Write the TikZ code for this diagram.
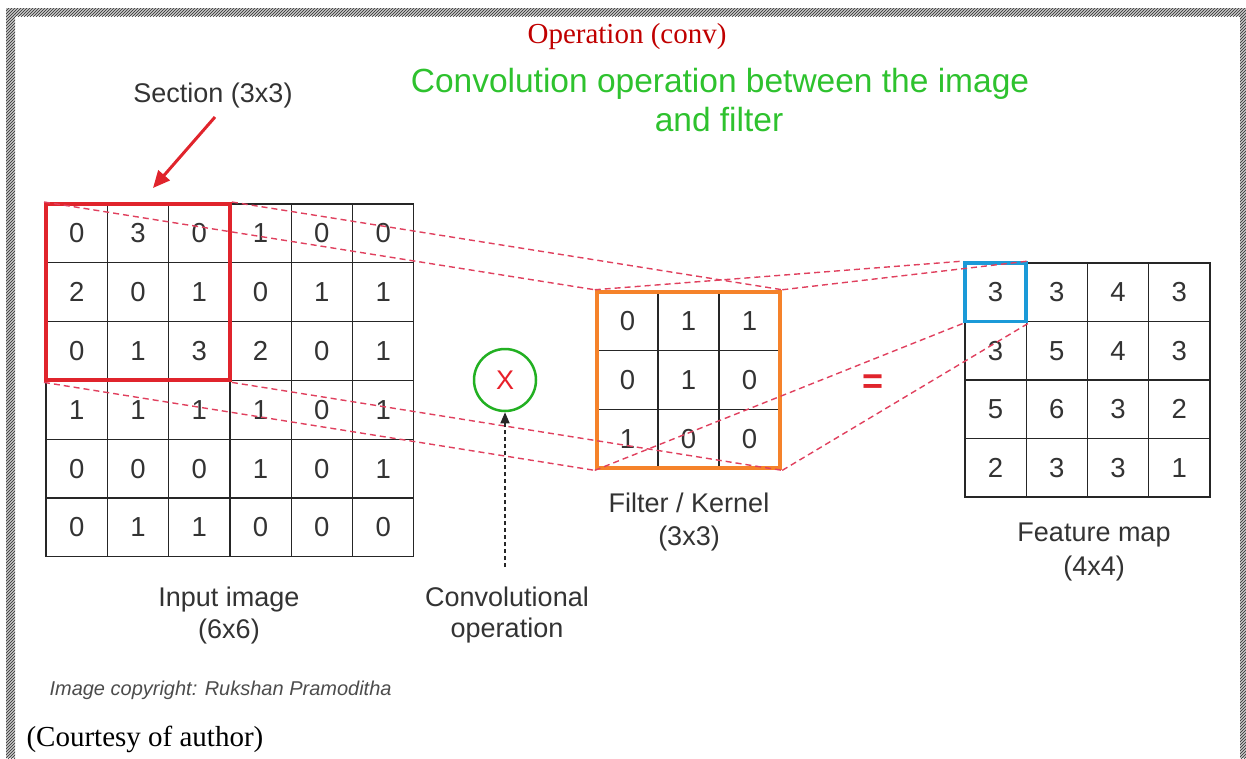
\documentclass[tikz,border=0pt]{standalone}
\usepackage{fontspec}
\setmainfont{Liberation Serif}
\newfontfamily\arialfont{Liberation Sans}
\usetikzlibrary{arrows.meta,patterns}

\definecolor{inkgray}{HTML}{333333}
\definecolor{secred}{HTML}{E0242C}
\definecolor{kernorange}{HTML}{F5822A}
\definecolor{focusblue}{HTML}{1B9AD8}
\definecolor{titlegreen}{HTML}{2EC22E}
\definecolor{ringgreen}{HTML}{22B022}
\definecolor{guidered}{HTML}{E0405E}
\definecolor{headred}{HTML}{C00000}
\definecolor{xred}{HTML}{E8202A}

\newcommand\cellfont{\arialfont\fontsize{27.5}{31}\selectfont}
\newcommand\lblfont{\arialfont\fontsize{27}{31}\selectfont}
\newcommand\titlefont{\arialfont\fontsize{33.5}{39}\selectfont}
\newcommand\headfont{\fontsize{29}{34}\selectfont}
\newcommand\notefont{\arialfont\itshape\fontsize{20}{24}\selectfont}
\newcommand\eqfont{\arialfont\bfseries\fontsize{36}{40}\selectfont}

\begin{document}
\begin{tikzpicture}[x=1pt,y=-1pt,
  hatch/.style={fill=gray!45, postaction={pattern=north east lines, pattern color=gray!35!black}},
  cell/.style={draw=black!85, line width=1.3pt, minimum width=61.3pt, minimum height=58.8pt,
               inner sep=0pt, font=\cellfont, text=inkgray},
  kcell/.style={cell, minimum width=61pt, minimum height=58.7pt},
  fcell/.style={cell, minimum width=61.25pt, minimum height=58.5pt},
  lbl/.style={anchor=base, font=\lblfont, text=inkgray},
  guide/.style={draw=guidered, line width=1.4pt, dash pattern=on 6pt off 4pt},
  framebox/.style={inner sep=0pt, fill=none}
]
\useasboundingbox (0,0) rectangle (1246,758);

% hatched page edges
\fill[hatch] (6,8) rectangle (1246,16);
\fill[hatch] (6,8) rectangle (15,758);
\fill[hatch] (1240,8) rectangle (1246,758);

% headings
\node[anchor=base, font=\headfont, text=headred] (head) at (627,43) {Operation (conv)};
\node[anchor=base, font=\titlefont, text=titlegreen] (titlea) at (720,92) {Convolution operation between the image};
\node[anchor=base, font=\titlefont, text=titlegreen] (titleb) at (719,131) {and filter};

% input image 6x6
\foreach \row [count=\r] in {{0,3,0,1,0,0},{2,0,1,0,1,1},{0,1,3,2,0,1},{1,1,1,1,0,1},{0,0,0,1,0,1},{0,1,1,0,0,0}} {
  \foreach \v [count=\c] in \row {
    \node[cell] (in-\r-\c) at ({46+61.3*(\c-0.5)}, {204+58.8*(\r-0.5)}) {\v};
  }
}

% filter 3x3
\foreach \row [count=\r] in {{0,1,1},{0,1,0},{1,0,0}} {
  \foreach \v [count=\c] in \row {
    \node[kcell] (k-\r-\c) at ({597+61*(\c-0.5)}, {292+58.7*(\r-0.5)}) {\v};
  }
}

% feature map 4x4
\foreach \row [count=\r] in {{3,3,4,3},{3,5,4,3},{5,6,3,2},{2,3,3,1}} {
  \foreach \v [count=\c] in \row {
    \node[fcell] (f-\r-\c) at ({965+61.25*(\c-0.5)}, {263+58.5*(\r-0.5)}) {\v};
  }
}

% highlighted regions
\node[framebox, draw=secred, line width=4pt, minimum width=183.9pt, minimum height=176.4pt] (section) at (137.95,292.2) {};
\node[framebox, draw=kernorange, line width=4.5pt, minimum width=183pt, minimum height=176.1pt] (kernel) at (688.5,380.05) {};

% projection guides
\draw[guide] (section.north west) -- (kernel.north west);
\draw[guide] (section.north east) -- (kernel.north east);
\draw[guide] (section.south west) -- (kernel.south west);
\draw[guide] (section.south east) -- (kernel.south east);

\node[framebox, draw=focusblue, line width=3.8pt, minimum width=61.25pt, minimum height=58.5pt] (focus) at (995.6,292.25) {};

\draw[guide] (kernel.north west) -- (focus.north west);
\draw[guide] (kernel.north east) -- (focus.north east);
\draw[guide] (kernel.south west) -- (focus.south west);
\draw[guide] (kernel.south east) -- (focus.south east);

% section label and pointer
\node[lbl] (seclbl) at (213,102) {Section (3x3)};
\coordinate (sectail) at (215,117);
\coordinate (sechead) at (153,188);
\draw[secred, line width=3pt, -{Triangle[length=17pt,width=15pt]}] (sectail) -- (sechead);

% convolution operator
\node[circle, draw=ringgreen, line width=2.5pt, minimum size=62pt, inner sep=0pt,
      font=\arialfont\fontsize{27}{30}\selectfont, text=xred] (mult) at (505,380) {X};
\coordinate (convtail) at (505,567);
\draw[black!85, line width=1.5pt, dash pattern=on 4pt off 3pt, -{Triangle[length=11pt,width=9pt]}] (convtail) -- (mult.south);

% equals sign
\node[anchor=base, font=\eqfont, text=secred] (eq) at (873,393) {=};

% captions
\node[lbl] (inlbla) at (229,606) {Input image};
\node[lbl] (inlblb) at (229,638) {(6x6)};
\node[lbl] (oplbla) at (507,606) {Convolutional};
\node[lbl] (oplblb) at (507,637) {operation};
\node[lbl] (klbla) at (689,512) {Filter / Kernel};
\node[lbl] (klblb) at (689,545) {(3x3)};
\node[lbl] (flbla) at (1094,541) {Feature map};
\node[lbl] (flblb) at (1094,575) {(4x4)};

\node[anchor=base west, font=\notefont, text=gray!60!black] (note) at (46,695) {Image copyright: Rukshan Pramoditha};
\node[anchor=base west, font=\headfont, text=black] (courtesy) at (23,746) {(Courtesy of author)};
\end{tikzpicture}
\end{document}
